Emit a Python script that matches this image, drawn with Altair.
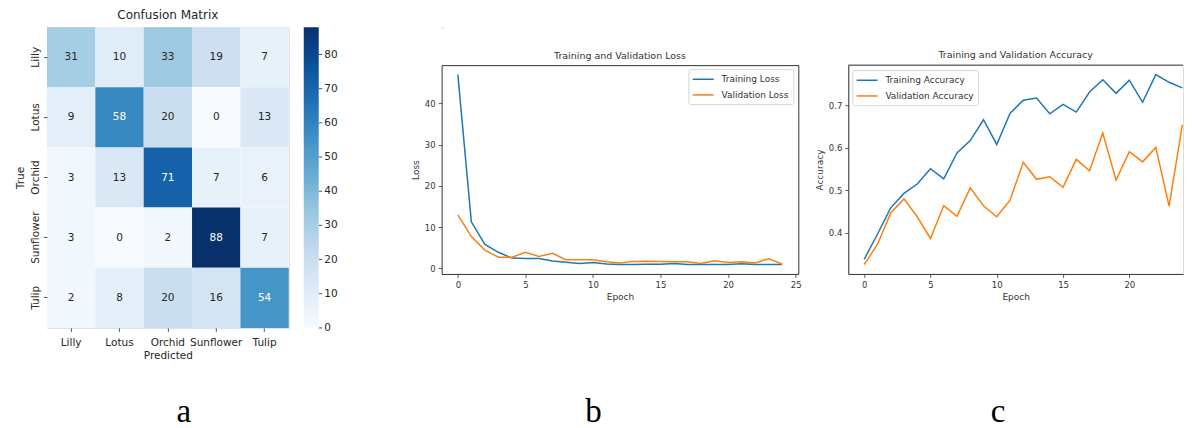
import altair as alt
import pandas as pd

# ---------------- data ----------------
classes = ["Lilly", "Lotus", "Orchid", "Sunflower", "Tulip"]
cm_lilly = [31, 10, 33, 19, 7]
cm_lotus = [9, 58, 20, 0, 13]
cm_orchid = [3, 13, 71, 7, 6]
cm_sunflower = [3, 0, 2, 88, 7]
cm_tulip = [2, 8, 20, 16, 54]
cm_rows = [cm_lilly, cm_lotus, cm_orchid, cm_sunflower, cm_tulip]
cbar_ticks = [0, 10, 20, 30, 40, 50, 60, 70, 80]

epochs = list(range(25))
train_loss = [47.0, 11.3, 5.8, 3.9, 2.5, 2.4, 2.4, 1.8, 1.5, 1.2, 1.45, 1.05, 0.95,
              0.95, 1.0, 1.0, 1.2, 0.95, 0.95, 0.95, 0.95, 1.1, 0.95, 0.95, 0.95]
val_loss = [13.0, 7.7, 4.45, 2.7, 2.7, 3.9, 2.9, 3.65, 2.1, 2.1, 2.1, 1.6, 1.3,
            1.7, 1.75, 1.7, 1.6, 1.6, 1.2, 1.85, 1.45, 1.6, 1.3, 2.35, 1.05]
train_acc = [0.338, 0.397, 0.459, 0.493, 0.515, 0.551, 0.527, 0.588, 0.617, 0.666,
             0.608, 0.681, 0.712, 0.717, 0.680, 0.702, 0.684, 0.731, 0.760, 0.728,
             0.759, 0.707, 0.772, 0.754, 0.741]
val_acc = [0.326, 0.373, 0.447, 0.480, 0.438, 0.387, 0.464, 0.439, 0.506, 0.464,
           0.438, 0.477, 0.566, 0.526, 0.532, 0.507, 0.573, 0.546, 0.635, 0.524,
           0.591, 0.567, 0.601, 0.463, 0.654]
loss_series = ["Training Loss", "Validation Loss"]
acc_series = ["Training Accuracy", "Validation Accuracy"]
panel_labels = ["a", "b", "c"]

FONT = "DejaVu Sans"
TXT = "#262626"
blues = ["#f7fbff", "#deebf7", "#c6dbef", "#9ecae1", "#6baed6",
         "#4292c6", "#2171b5", "#08519c", "#08306b"]
vmax = max(max(r) for r in cm_rows)
stops = [vmax * i / 8 for i in range(9)]

cm_df = pd.DataFrame(
    [{"true": t, "pred": p, "v": v} for t, row in zip(classes, cm_rows) for p, v in zip(classes, row)]
)
cbar_df = pd.DataFrame({"tick": cbar_ticks})

# ---------------- confusion matrix ----------------
HW, HH = 242, 301
xh = alt.X("pred:N", sort=classes, scale=alt.Scale(paddingInner=0, paddingOuter=0),
           axis=alt.Axis(title="Predicted", labelAngle=0, domain=False, tickSize=3.5,
                         tickWidth=0.8, tickColor=TXT, labelPadding=6, titlePadding=3,
                         labelFont=FONT, titleFont=FONT, labelFontSize=10.5, titleFontSize=10.5,
                         titleFontWeight="normal", labelColor=TXT, titleColor=TXT))
yh = alt.Y("true:N", sort=classes, scale=alt.Scale(paddingInner=0, paddingOuter=0),
           axis=alt.Axis(title="True", labelAngle=270, labelAlign="center", labelBaseline="bottom",
                         domain=False, tickSize=3.5, tickWidth=0.8, tickColor=TXT, labelPadding=3,
                         titlePadding=5, labelFont=FONT, titleFont=FONT, labelFontSize=10.5,
                         titleFontSize=10.5, titleFontWeight="normal", labelColor=TXT,
                         titleColor=TXT))
rect = alt.Chart(cm_df).mark_rect().encode(
    x=xh, y=yh,
    color=alt.Color("v:Q", scale=alt.Scale(domain=stops, range=blues, interpolate="rgb"),
                    legend=alt.Legend(orient="none", legendX=257, legendY=0, direction="vertical",
                                      gradientLength=HH, gradientThickness=15, title=None,
                                      values=cbar_ticks, labelExpr="''", labelFontSize=10.5,
                                      gradientStrokeWidth=0)),
)
cell_text = alt.Chart(cm_df).mark_text(font=FONT, fontSize=10.5).encode(
    x=alt.X("pred:N", sort=classes),
    y=alt.Y("true:N", sort=classes, scale=alt.Scale(paddingInner=0, paddingOuter=0), axis=None),
    text="v:Q",
    color=alt.condition(alt.datum.v > 45, alt.value("white"), alt.value(TXT)),
)
cbar_y = alt.Y("tick:Q", scale=alt.Scale(domain=[0, vmax], range=[HH, 0], nice=False, zero=False),
               axis=None)
cbar_ticks_mark = alt.Chart(cbar_df).mark_rule(color=TXT, strokeWidth=0.8).encode(
    x=alt.value(272), x2=alt.value(275.5), y=cbar_y
)
cbar_labels = alt.Chart(cbar_df).mark_text(
    font=FONT, fontSize=10.5, color=TXT, align="left", baseline="middle"
).encode(x=alt.value(277.5), y=cbar_y, text="tick:Q")
lab_a = alt.Chart(pd.DataFrame({"lab": [panel_labels[0]]})).mark_text(
    font="Liberation Serif", fontSize=33, align="center", baseline="alphabetic", color="black"
).encode(text="lab:N", x=alt.value(137), y=alt.value(395))
heat = alt.layer(rect, cell_text, cbar_ticks_mark, cbar_labels, lab_a).resolve_scale(
    y="independent"
).properties(
    width=HW, height=HH,
    title=alt.Title("Confusion Matrix", font=FONT, fontSize=12, fontWeight="normal",
                    color=TXT, anchor="middle", offset=5),
)

# ---------------- line charts ----------------
def legend(x, y):
    return alt.Legend(orient="none", legendX=x, legendY=y, title=None,
                      symbolType="M-1.17,0H3.03", symbolSize=100, symbolStrokeWidth=1.5,
                      labelFont=FONT, labelFontSize=9, labelColor="#333", labelOffset=17,
                      rowPadding=4.7, padding=4.15, strokeColor="#d5d5d5", fillColor="white",
                      cornerRadius=2)

def axis(title, values, fmt=None, domain=False):
    kw = dict(title=title, values=values, grid=False, domain=domain, domainColor="#333",
              tickSize=3.5, tickWidth=0.8, tickColor="#333", labelPadding=3, titlePadding=4,
              labelFont=FONT, titleFont=FONT, labelFontSize=8.5, titleFontSize=9,
              titleFontWeight="normal", labelColor="#333", titleColor="#333")
    if fmt:
        kw["format"] = fmt
    return alt.Axis(**kw)

LW, LH = 357, 209
loss_df = pd.DataFrame({
    "epoch": epochs + epochs,
    "value": train_loss + val_loss,
    "series": [loss_series[0]] * len(epochs) + [loss_series[1]] * len(epochs),
})
loss_line = alt.Chart(loss_df).mark_line(strokeWidth=1.5).encode(
    x=alt.X("epoch:Q", scale=alt.Scale(domain=[-1.2, 25.2], nice=False, zero=False),
            axis=axis("Epoch", [0, 5, 10, 15, 20, 25])),
    y=alt.Y("value:Q", scale=alt.Scale(domain=[-1.35, 49.3], nice=False, zero=False),
            axis=axis("Loss", [0, 10, 20, 30, 40])),
    color=alt.Color("series:N", sort=loss_series,
                    scale=alt.Scale(domain=loss_series, range=["#1f77b4", "#ff7f0e"]),
                    legend=legend(247, 4)),
)
lab_b = alt.Chart(pd.DataFrame({"lab": [panel_labels[1]]})).mark_text(
    font="Liberation Serif", fontSize=33, align="center", baseline="alphabetic", color="black"
).encode(text="lab:N", x=alt.value(152), y=alt.value(357))
loss = alt.layer(loss_line, lab_b).properties(
    width=LW, height=LH,
    title=alt.Title("Training and Validation Loss", font=FONT, fontSize=9.5, fontWeight="normal",
                    color="#333", anchor="middle", offset=5),
    view=alt.ViewBackground(stroke="#333", strokeWidth=1),
)

AW = 335
acc_df = pd.DataFrame({
    "epoch": epochs + epochs,
    "value": train_acc + val_acc,
    "series": [acc_series[0]] * len(epochs) + [acc_series[1]] * len(epochs),
})
acc_line = alt.Chart(acc_df).mark_line(strokeWidth=1.5, clip=True).encode(
    x=alt.X("epoch:Q", scale=alt.Scale(domain=[-1.2, 24.05], nice=False, zero=False),
            axis=axis("Epoch", [0, 5, 10, 15, 20], domain=True)),
    y=alt.Y("value:Q", scale=alt.Scale(domain=[0.3037, 0.7943], nice=False, zero=False),
            axis=axis("Accuracy", [0.4, 0.5, 0.6, 0.7], fmt=".1f", domain=True)),
    color=alt.Color("series:N", sort=acc_series,
                    scale=alt.Scale(domain=acc_series, range=["#1f77b4", "#ff7f0e"]),
                    legend=legend(4, 5)),
)
top_rule = alt.Chart(pd.DataFrame({"s": [0]})).mark_rule(color="#333", strokeWidth=1).encode(
    x=alt.value(0), x2=alt.value(AW), y=alt.value(0)
)
lab_c = alt.Chart(pd.DataFrame({"lab": [panel_labels[2]]})).mark_text(
    font="Liberation Serif", fontSize=33, align="center", baseline="alphabetic", color="black"
).encode(text="lab:N", x=alt.value(150), y=alt.value(357))
acc = alt.layer(acc_line, top_rule, lab_c).properties(
    width=AW, height=LH,
    title=alt.Title("Training and Validation Accuracy", font=FONT, fontSize=9.5,
                    fontWeight="normal", color="#333", anchor="middle", offset=5),
)

spacer = alt.Chart(pd.DataFrame({"s": [0]})).mark_point(opacity=0).encode(
    x=alt.value(0), y=alt.value(0)
).properties(width=1, height=1)

inner = alt.hconcat(loss, acc, spacing=50, bounds="flush").resolve_scale(color="independent")
right = alt.vconcat(spacer, inner, spacing=37, bounds="flush").resolve_scale(color="independent")
chart = alt.hconcat(heat, right, spacing=153, bounds="flush").resolve_scale(
    color="independent"
).properties(
    padding={"left": 7, "top": 0, "right": 0, "bottom": 0}
).configure_view(stroke=None).configure(background="white")

chart.save("out.html", embed_options={"renderer": "svg", "actions": False})
